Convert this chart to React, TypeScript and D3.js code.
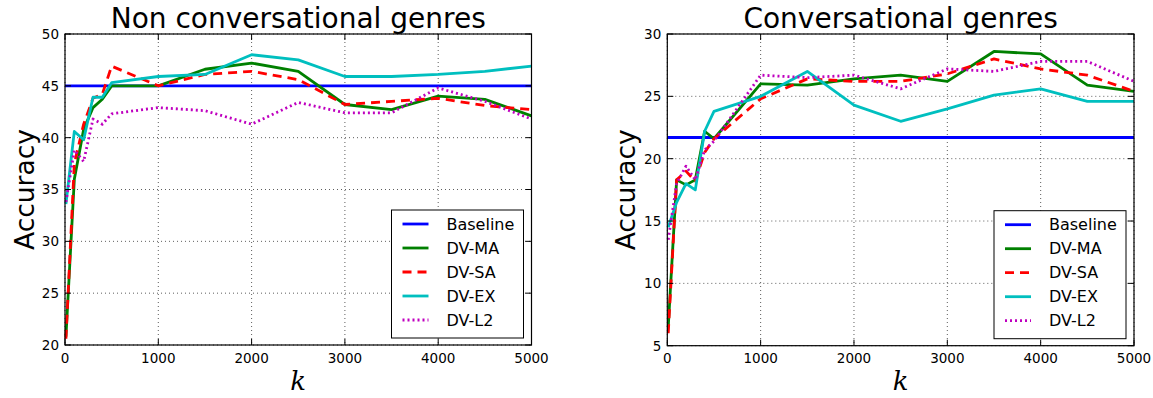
import React from "react";
import * as d3 from "d3";

const kValues = [10, 100, 200, 300, 400, 500, 1000, 1500, 2000, 2500, 3000, 3500, 4000, 4500, 5000];

const baselineNC = 45;
const maNC = [20.8, 36, 40.8, 42.9, 43.7, 45, 45, 46.6, 47.2, 46.4, 43.2, 42.7, 44.0, 43.7, 42.1];
const saNC = [20.6, 37.5, 41.3, 43.8, 44.2, 46.9, 45, 46.1, 46.4, 45.6, 43.2, 43.5, 43.8, 43.1, 42.7];
const exNC = [33.6, 40.6, 39.8, 43.9, 43.9, 45.3, 45.9, 46.1, 48.0, 47.5, 45.9, 45.9, 46.1, 46.4, 46.9];
const l2NC = [33.8, 38.8, 37.7, 41.8, 41.3, 42.3, 42.9, 42.6, 41.3, 43.4, 42.4, 42.4, 44.8, 43.5, 41.8];

const baselineC = 21.7;
const maC = [6.5, 18.3, 17.9, 18.3, 22.2, 21.6, 26.0, 25.9, 26.4, 26.7, 26.2, 28.6, 28.4, 25.9, 25.4];
const saC = [6.0, 18.3, 19.0, 18.2, 20.5, 21.6, 24.8, 26.4, 26.2, 26.2, 26.8, 28.0, 27.2, 26.7, 25.4];
const exC = [14.5, 16.5, 18.0, 17.5, 22.2, 23.8, 25.0, 27.0, 24.3, 23.0, 24.0, 25.1, 25.6, 24.6, 24.6];
const l2C = [13.5, 18.0, 19.4, 18.3, 20.7, 21.4, 26.7, 26.5, 26.7, 25.6, 27.2, 27.0, 27.8, 27.8, 26.2];

const xTicks = [0, 1000, 2000, 3000, 4000, 5000];
const yTicksNC = [20, 25, 30, 35, 40, 45, 50];
const yTicksC = [5, 10, 15, 20, 25, 30];

const seriesNames = ["Baseline", "DV-MA", "DV-SA", "DV-EX", "DV-L2"];
const seriesColors = ["#0000ff", "#008000", "#ff0000", "#00bfbf", "#bf00bf"];
const seriesDash = [null, null, "9,6", null, "2,3"];

const FONT = "'DejaVu Sans', sans-serif";

type PanelProps = {
  left: number;
  right: number;
  top: number;
  bottom: number;
  title: string;
  yDomain: [number, number];
  yTicks: number[];
  baseline: number;
  series: number[][];
  ylabelX: number;
};

function Panel(p: PanelProps) {
  const x = d3.scaleLinear().domain([0, 5000]).range([p.left, p.right]);
  const y = d3.scaleLinear().domain(p.yDomain).range([p.bottom, p.top]);
  const line = d3
    .line<[number, number]>()
    .x((d) => x(d[0]))
    .y((d) => y(d[1]));
  const cx = (p.left + p.right) / 2;
  const cy = (p.top + p.bottom) / 2;
  const allSeries: number[][] = [kValues.map(() => p.baseline), ...p.series];
  const tickLen = 6;
  const legW = 132;
  const legH = 128;
  const legX = p.right - 8 - legW;
  const legY = p.bottom - 7 - legH;
  return (
    <g>
      {xTicks.map((t) => (
        <line key={"gx" + t} x1={x(t)} x2={x(t)} y1={p.top} y2={p.bottom} stroke="#333" strokeWidth={0.8} strokeDasharray="1,3" />
      ))}
      {p.yTicks.map((t) => (
        <line key={"gy" + t} x1={p.left} x2={p.right} y1={y(t)} y2={y(t)} stroke="#333" strokeWidth={0.8} strokeDasharray="1,3" />
      ))}
      {allSeries.map((vals, i) => (
        <path
          key={"s" + i}
          d={line(kValues.map((k, j) => [i === 0 ? (j === 0 ? 0 : k) : k, vals[j]] as [number, number])) || ""}
          fill="none"
          stroke={seriesColors[i]}
          strokeWidth={2.8}
          strokeDasharray={seriesDash[i] || undefined}
          strokeLinejoin="round"
        />
      ))}
      {xTicks.map((t) => (
        <g key={"tx" + t}>
          <line x1={x(t)} x2={x(t)} y1={p.bottom} y2={p.bottom - tickLen} stroke="#000" strokeWidth={1} />
          <line x1={x(t)} x2={x(t)} y1={p.top} y2={p.top + tickLen} stroke="#000" strokeWidth={1} />
          <text x={x(t)} y={363} textAnchor="middle" fontFamily={FONT} fontSize={13.5} fill="#000">
            {t}
          </text>
        </g>
      ))}
      {p.yTicks.map((t) => (
        <g key={"ty" + t}>
          <line x1={p.left} x2={p.left + tickLen} y1={y(t)} y2={y(t)} stroke="#000" strokeWidth={1} />
          <line x1={p.right} x2={p.right - tickLen} y1={y(t)} y2={y(t)} stroke="#000" strokeWidth={1} />
          <text x={p.left - 6} y={y(t)} dy="0.36em" textAnchor="end" fontFamily={FONT} fontSize={13.5} fill="#000">
            {t}
          </text>
        </g>
      ))}
      <rect x={p.left} y={p.top} width={p.right - p.left} height={p.bottom - p.top} fill="none" stroke="#000" strokeWidth={1.2} />
      <text x={cx} y={28} textAnchor="middle" fontFamily={FONT} fontSize={28} fill="#000">
        {p.title}
      </text>
      <text
        transform={`translate(${p.ylabelX},${cy}) rotate(-90)`}
        textAnchor="middle"
        fontFamily={FONT}
        fontSize={26.5}
        fill="#000"
      >
        Accuracy
      </text>
      <text x={cx} y={390} textAnchor="middle" fontFamily="'DejaVu Serif', serif" fontStyle="italic" fontSize={26} fill="#000">
        k
      </text>
      <rect x={legX} y={legY} width={legW} height={legH} fill="#fff" stroke="#000" strokeWidth={1} />
      {seriesNames.map((name, i) => {
        const yy = legY + 14 + i * 24;
        return (
          <g key={"l" + i}>
            <line
              x1={legX + 11}
              x2={legX + 37}
              y1={yy}
              y2={yy}
              stroke={seriesColors[i]}
              strokeWidth={2.8}
              strokeDasharray={seriesDash[i] || undefined}
            />
            <text x={legX + 55} y={yy} dy="0.36em" fontFamily={FONT} fontSize={16} fill="#000">
              {name}
            </text>
          </g>
        );
      })}
    </g>
  );
}

export default function App() {
  return (
    <svg
      width={1153}
      height={398}
      style={{ position: "absolute", left: 0, top: 0, background: "#fff" }}
    >
      <rect x={0} y={0} width={1153} height={398} fill="#fff" />
      <Panel
        left={65}
        right={531.5}
        top={34}
        bottom={345}
        title="Non conversational genres"
        yDomain={[20, 50]}
        yTicks={yTicksNC}
        baseline={baselineNC}
        series={[maNC, saNC, exNC, l2NC]}
        ylabelX={34}
      />
      <Panel
        left={667.3}
        right={1134}
        top={34}
        bottom={345.7}
        title="Conversational genres"
        yDomain={[5, 30]}
        yTicks={yTicksC}
        baseline={baselineC}
        series={[maC, saC, exC, l2C]}
        ylabelX={635}
      />
    </svg>
  );
}
